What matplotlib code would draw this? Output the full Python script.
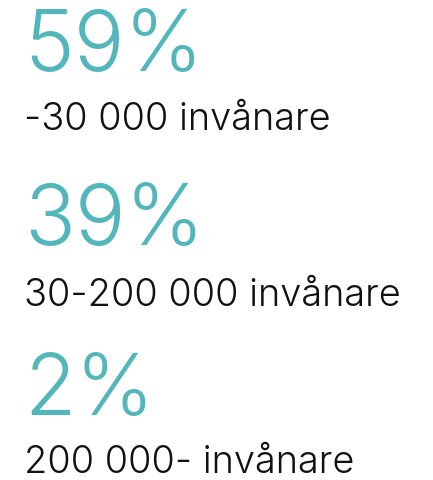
import matplotlib
matplotlib.use("Agg")
import matplotlib.pyplot as plt

# share of municipalities per population group
shares = [59, 39, 2]
groups = ["-30 000 invånare", "30-200 000 invånare", "200 000- invånare"]

# baselines in pixels from the top of the image
big_base = [71, 245, 415]
small_base = [130, 306, 473]

W, H = 433, 481
fig = plt.figure(figsize=(W / 100, H / 100), dpi=100)
fig.patch.set_facecolor("white")

x0 = 24 / W
for share, label, yb, ys in zip(shares, groups, big_base, small_base):
    fig.text(x0, 1 - yb / H, f"{share}%", fontsize=60.5, color="#52b6bb",
             family="Inter", weight=300, va="baseline", ha="left")
    fig.text(x0, 1 - ys / H, label, fontsize=27.3, color="#111111",
             family="Inter", weight=300, va="baseline", ha="left")

fig.savefig("out.png", dpi=100)
